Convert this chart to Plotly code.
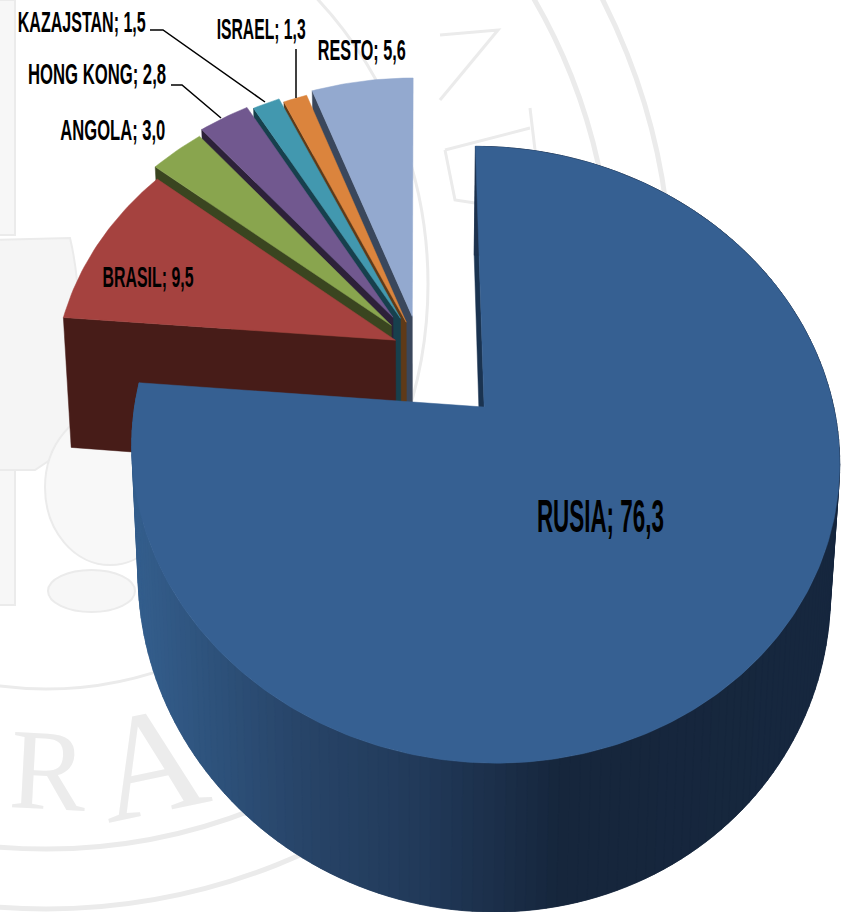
import json
import math
import plotly.graph_objects as go

# ---- data ----
categories = ["RUSIA", "BRASIL", "ANGOLA", "HONG KONG", "KAZAJSTAN", "ISRAEL", "RESTO"]
values = [76.3, 9.5, 3.0, 2.8, 1.5, 1.3, 5.6]
pulls = [0.275, 0.075, 0.115, 0.135, 0.12, 0.10, 0.115]
depths = [122, 132, 122, 122, 122, 122, 122]
top_colors = ["#366092", "#A5423F", "#89A54E", "#71588F", "#4298AF", "#DB843D", "#93A9CF"]
wall_colors = ["#1A3350", "#471C18", "#3A4520", "#2D2139", "#17404D", "#5F3A18", "#3A475C"]
label_font_sizes = [46, 29, 29, 29, 29, 29, 29]
label_centers = [(600, 516), (148, 277), (113, 130), (97, 74), (82, 22), (261, 29), (361, 50)]
label_widths = [127, 91, 105, 138, 128, 89, 88]
leaders = [[(150, 30), (163, 30), (265, 102)], [(171, 85), (182, 85), (221, 118)], [(296, 49), (296, 98)]]

# ---- projection of the tilted pie ----
OX, OY, R, Q, K, SHRINK = 419, 348, 339, 0.835, 0.15, 0.022


def project(X, Y, depth=0):
    w = 1 + K * Y
    sx = OX + R * X / w
    sy = OY - R * Q * Y / w
    if depth:
        sx = OX + (sx - OX) * (1 - SHRINK)
        sy = sy + depth / w
    return sx, sy


def rim(center, theta, depth=0):
    t = math.radians(theta)
    return project(center[0] + math.sin(t), center[1] + math.cos(t), depth)


def poly(points, color):
    xs = [p[0] for p in points] + [points[0][0]]
    ys = [p[1] for p in points] + [points[0][1]]
    return go.Scatter(x=xs, y=ys, mode="lines", fill="toself", fillcolor=color,
                      line=dict(color=color, width=0.5), hoverinfo="skip", showlegend=False)


stops = [(130, (0x35, 0x60, 0x8F)), (300, (0x28, 0x45, 0x69)), (420, (0x22, 0x3A, 0x5A)),
         (560, (0x16, 0x26, 0x3C)), (848, (0x17, 0x28, 0x3F))]


def wall_shade(x):
    for (x0, c0), (x1, c1) in zip(stops, stops[1:]):
        if x <= x1:
            f = max(0, (x - x0) / (x1 - x0))
            return "rgb(%d,%d,%d)" % tuple(a + (b - a) * f for a, b in zip(c0, c1))
    return "rgb(23,40,63)"


fig = go.Figure()

ranges = []
acc = 0
for v in values:
    a0 = acc / sum(values) * 360
    acc += v
    ranges.append((a0, acc / sum(values) * 360))

# small slices, painted from the back (RESTO) to the front (BRASIL)
for i in range(len(values) - 1, 0, -1):
    a0, a1 = ranges[i]
    mid = math.radians((a0 + a1) / 2)
    c = (pulls[i] * math.sin(mid), pulls[i] * math.cos(mid))
    apex, apex_d = project(*c), project(*c, depths[i])
    fig.add_trace(poly([apex, rim(c, a0), rim(c, a0, depths[i]), apex_d], wall_colors[i]))
    n = max(4, int(a1 - a0))
    arc = [rim(c, a0 + (a1 - a0) * j / n) for j in range(n + 1)]
    fig.add_trace(poly([apex] + arc, top_colors[i]))

# big slice: side wall in overlapping bands (painted in angular order), then the top
a0, a1 = ranges[0]
mid = math.radians((a0 + a1) / 2)
c = (pulls[0] * math.sin(mid), pulls[0] * math.cos(mid))
d = depths[0]
apex, apex_d = project(*c), project(*c, d)
fig.add_trace(poly([apex, rim(c, a0), rim(c, a0, d), apex_d], wall_colors[0]))
step = 1.5
n = int((a1 - a0) / step)
for j in range(n):
    t0 = a0 + (a1 - a0) * j / n
    t1 = min(a1, t0 + 2 * step)
    tm = t0 + step / 2
    xm = rim(c, tm, d)[0]
    pts = [rim(c, t0 + (t1 - t0) * m / 4) for m in range(5)] + \
          [rim(c, t1 - (t1 - t0) * m / 4, d) for m in range(5)]
    fig.add_trace(poly(pts, wall_shade(xm)))
arc = [rim(c, a0 + (a1 - a0) * j / 360) for j in range(361)]
fig.add_trace(poly([apex] + arc, top_colors[0]))

# ---- watermark seal behind the chart ----
shapes = []
WM = "#EBEBEB"
for rx, ry, w in [(382, 405, 3), (565, 565, 5), (625, 625, 5)]:
    shapes.append(dict(type="circle", x0=46 - rx, x1=46 + rx, y0=284 - ry, y1=284 + ry, layer="below",
                       line=dict(color=WM, width=w)))
shapes += [
    dict(type="rect", x0=-5, x1=15, y0=0, y1=235, layer="below", fillcolor="#F7F7F7", line=dict(color=WM, width=2)),
    dict(type="rect", x0=-5, x1=15, y0=470, y1=605, layer="below", fillcolor="#F7F7F7", line=dict(color=WM, width=2)),
    dict(type="path", path="M -5 240 L 70 238 Q 85 300 80 440 L 35 470 L -5 470 Z", layer="below",
         fillcolor="#F5F5F5", line=dict(color=WM, width=2)),
    dict(type="circle", x0=45, x1=175, y0=410, y1=565, layer="below", fillcolor="#F8F8F8", line=dict(color=WM, width=2)),
    dict(type="circle", x0=48, x1=135, y0=570, y1=612, layer="below", fillcolor="#F7F7F7", line=dict(color=WM, width=2)),
    dict(type="path", path="M 440 35 L 498 30 L 440 100", layer="below", line=dict(color=WM, width=3)),
    dict(type="path", path="M 445 150 L 530 128 M 530 108 L 535 150 M 445 150 L 455 200 L 475 203",
         layer="below", line=dict(color=WM, width=3)),
]
for pts in leaders:
    path = "M " + " L ".join(f"{x} {y}" for x, y in pts)
    shapes.append(dict(type="path", path=path, line=dict(color="#000000", width=1.5)))

annotations = [
    dict(x=48, y=770, text="R", textangle=3, showarrow=False, font=dict(family="Liberation Serif", size=115, color="#ECECEC")),
    dict(x=150, y=762, text="A", textangle=-12, showarrow=False, font=dict(family="Liberation Serif", size=150, color="#ECECEC")),
]
fit = {}
for name, v, size, (cx, cy), width in zip(categories, values, label_font_sizes, label_centers, label_widths):
    text = f"{name}; {v:.1f}".replace(".", ",")
    fit[text] = width
    annotations.append(dict(x=cx, y=cy, text=text, showarrow=False,
                            font=dict(family="Liberation Sans", size=size, color="#000000", weight=700)))

fig.update_layout(
    width=848, height=912, margin=dict(l=0, r=0, t=0, b=0),
    paper_bgcolor="#FFFFFF", plot_bgcolor="#FFFFFF", showlegend=False,
    xaxis=dict(range=[0, 848], visible=False, fixedrange=True),
    yaxis=dict(range=[912, 0], visible=False, fixedrange=True),
    shapes=shapes, annotations=annotations,
)
# labels in the reference use a condensed face: squeeze the glyphs to the measured widths
post = ("document.body.style.margin='0';document.body.style.overflow='hidden';"
        "var fit=" + json.dumps(fit) + ";"
        "document.querySelectorAll('.annotation-text').forEach(function(t){"
        "var w=fit[t.textContent];if(w){t.setAttribute('textLength',w);"
        "t.setAttribute('lengthAdjust','spacingAndGlyphs');}});")
fig.write_html("out.html", config=dict(displayModeBar=False), post_script=post)
